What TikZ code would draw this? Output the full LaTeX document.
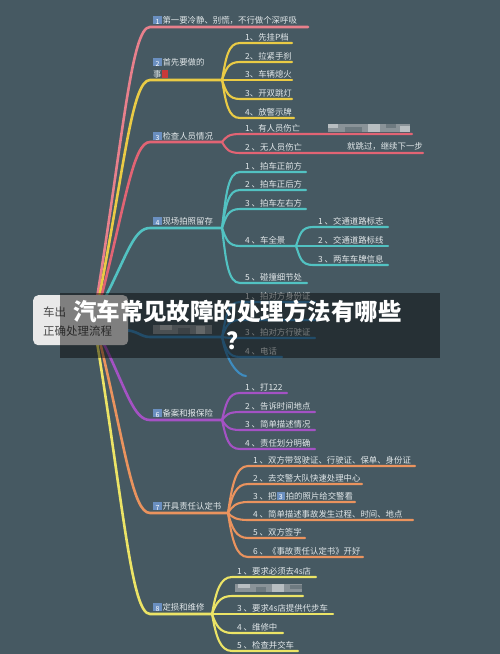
\documentclass[tikz,border=0pt]{standalone}
\usepackage{fontspec}
\newfontfamily\cjk{Noto Sans CJK SC}
\usetikzlibrary{calc}
\definecolor{bg}{HTML}{465962}
\definecolor{labc}{HTML}{E2E8EA}
\definecolor{cA}{HTML}{E8808C}
\definecolor{cB}{HTML}{EACB45}
\definecolor{cC}{HTML}{E26474}
\definecolor{cD}{HTML}{52C2C2}
\definecolor{cE}{HTML}{3E8CC0}
\definecolor{cF}{HTML}{A452C4}
\definecolor{cG}{HTML}{EA935E}
\definecolor{cH}{HTML}{ECE466}
\definecolor{keyblue}{HTML}{6A8FC0}
\definecolor{markred}{HTML}{C83A3A}
\definecolor{rootc}{HTML}{E9E9E9}
\definecolor{roottext}{HTML}{4A4A4A}
\definecolor{blurA}{HTML}{8A9398}
\definecolor{blurB}{HTML}{B8BEC1}
\definecolor{blurC}{HTML}{6E7A80}
\newcommand\kc[1]{{\setlength{\fboxsep}{0pt}\colorbox{keyblue}{\raisebox{-0.8pt}[7.5pt][0.8pt]{\makebox[8.5pt]{\color{white}\fontsize{7}{7}\selectfont #1}}}}\hspace{0.8pt}}
\newcommand\redm{\textcolor{markred}{\rule[-0.5pt]{6.5pt}{7.5pt}}}
\newcommand\child[7]{%
  \coordinate (#3s) at (#4,#5);
  \coordinate (#3e) at (#6,#5);
  \node[lab] (#3) at ($(#3s)+(5,-3)$) {#7};
  \draw[#1] (#2) .. controls ($(#2)!0.6!(#2|-#3s)+(4,0)$) and +(-12,0) .. (#3s) -- (#3e);
}
\begin{document}
\begin{tikzpicture}[x=1pt,y=-1pt,
  main/.style={line width=2.6pt, line cap=round},
  sub/.style={line width=2.1pt, line cap=round},
  lab/.style={text=labc, font=\cjk\fontsize{8.4}{10}\selectfont, inner sep=0pt, anchor=base west}]
\fill[bg] (0,0) rectangle (500,654);
\useasboundingbox (0,0) rectangle (500,654);

% root start points
\coordinate (r1) at (97,298);
\coordinate (r2) at (99,298);
\coordinate (r3) at (101,298);
\coordinate (r4) at (105,298);
\coordinate (r5) at (122,330);
\coordinate (r6) at (103,342);
\coordinate (r7) at (100,342);
\coordinate (r8) at (97,342);

% ---- branch 1
\coordinate (b1s) at (150,27);
\coordinate (b1e) at (308,27);
\node[lab] (b1) at (153,23.5) {\kc{1}第一要冷静、别慌，不行做个深呼吸};
\draw[main,cA] (r1) .. controls (123.5,134) and (131.5,27) .. (b1s) -- (b1e);

% ---- branch 2
\coordinate (b2s) at (150,80);
\coordinate (J2) at (222,80);
\node[lab] (b2) at (153,65.5) {\kc{2}首先要做的};
\node[lab] (b2b) at (153,77) {事\redm};
\draw[main,cB] (r2) .. controls (124.5,166) and (132,80) .. (b2s) -- (J2);
\child{sub,cB}{J2}{c21}{240}{43}{292}{1、先挂P档}
\child{sub,cB}{J2}{c22}{240}{62}{292}{2、拉紧手刹}
\child{sub,cB}{J2}{c23}{240}{80}{292}{3、车辆熄火}
\child{sub,cB}{J2}{c24}{240}{99}{292}{3、开双跳灯}
\child{sub,cB}{J2}{c25}{240}{118}{294}{4、放警示牌}

% ---- branch 3
\coordinate (b3s) at (150,142);
\coordinate (J3) at (222,142);
\node[lab] (b3) at (153,139.5) {\kc{3}检查人员情况};
\draw[main,cC] (r3) .. controls (125.5,203) and (133,142) .. (b3s) -- (J3);
\child{sub,cC}{J3}{c31}{240}{134}{412}{1、有人员伤亡}
\child{sub,cC}{J3}{c32}{240}{153}{423}{2 、无人员伤亡}
\node[lab] (n32) at (347,149.5) {就跳过，继续下一步};
\fill[blurA] (328,124) rectangle (410,132);
\fill[blurB] (328,124) rectangle (338,128);
\fill[blurC] (345,127) rectangle (362,132);
\fill[blurB] (368,124) rectangle (380,132);
\fill[blurC] (386,124) rectangle (396,128);
\fill[blurB] (400,126) rectangle (410,132);

% ---- branch 4
\coordinate (b4s) at (150,228);
\coordinate (J4) at (222,228);
\node[lab] (b4) at (153,224.5) {\kc{4}现场拍照留存};
\draw[main,cD] (r4) .. controls (127.5,254) and (134,228) .. (b4s) -- (J4);
\child{sub,cD}{J4}{c41}{240}{172}{306}{1 、拍车正前方}
\child{sub,cD}{J4}{c42}{240}{190}{306}{2 、拍车正后方}
\child{sub,cD}{J4}{c43}{240}{209}{306}{3 、拍车左右方}
\child{sub,cD}{J4}{c44}{240}{246}{296}{4 、车全景}
\child{sub,cD}{J4}{c45}{240}{283}{307}{5 、碰撞细节处}
\child{sub,cD}{c44e}{c441}{313}{227}{388}{1 、交通道路标志}
\child{sub,cD}{c44e}{c442}{313}{246}{388}{2 、交通道路标线}
\child{sub,cD}{c44e}{c443}{313}{265}{388}{3 、两车车牌信息}

% ---- branch 5
\coordinate (b5s) at (150,337);
\coordinate (J5) at (222,337);
\draw[main,cE] (r5) .. controls (138,330) and (140,337) .. (b5s) -- (J5);
\fill[blurA] (153,325) rectangle (212,334);
\fill[blurB] (160,325) rectangle (172,330);
\fill[blurC] (178,328) rectangle (190,334);
\fill[blurB] (196,326) rectangle (205,334);
\child{sub,cE}{J5}{c51}{240}{302}{315}{1 、拍对方身份证}
\coordinate (c52s) at (240,320);
\coordinate (c52e) at (315,320);
\draw[sub,cE] (J5) .. controls ($(J5)!0.6!(J5|-c52s)+(4,0)$) and +(-12,0) .. (c52s) -- (c52e);
\child{sub,cE}{J5}{c53}{240}{338}{315}{3 、拍对方行驶证}
\child{sub,cE}{J5}{c54}{240}{357}{282}{4 、电话}
\coordinate (c55s) at (246,376);
\draw[sub,cE] (J5) .. controls ($(J5)!0.6!(J5|-c55s)+(4,0)$) and +(-8,0) .. (c55s);

% ---- branch 6
\coordinate (b6s) at (150,420);
\coordinate (J6) at (222,420);
\node[lab] (b6) at (153,416.5) {\kc{6}备案和报保险};
\draw[main,cF] (r6) .. controls (126.5,390) and (133.5,420) .. (b6s) -- (J6);
\child{sub,cF}{J6}{c61}{240}{393}{287}{1 、打122}
\child{sub,cF}{J6}{c62}{240}{412}{315}{2 、告诉时间地点}
\child{sub,cF}{J6}{c63}{240}{430}{315}{3 、简单描述情况}
\child{sub,cF}{J6}{c64}{240}{449}{315}{4 、责任划分明确}

% ---- branch 7
\coordinate (b7s) at (150,513);
\coordinate (J7) at (228,513);
\node[lab] (b7) at (153,509.5) {\kc{7}开具责任认定书};
\draw[main,cG] (r7) .. controls (125,446) and (132.5,513) .. (b7s) -- (J7);
\child{sub,cG}{J7}{c71}{248}{466}{415}{1 、双方带驾驶证、行驶证、保单、身份证}
\child{sub,cG}{J7}{c72}{248}{484}{362}{2 、去交警大队快速处理中心}
\child{sub,cG}{J7}{c73}{248}{502}{355}{3 、把\kc{3}拍的照片给交警看}
\child{sub,cG}{J7}{c74}{248}{520}{413}{4 、简单描述事故发生过程、时间、地点}
\child{sub,cG}{J7}{c75}{248}{538}{305}{5 、双方签字}
\child{sub,cG}{J7}{c76}{248}{557}{363}{6 、《事故责任认定书》开好}

% ---- branch 8
\coordinate (b8s) at (150,614);
\coordinate (J8) at (212,614);
\node[lab] (b8) at (153,610.5) {\kc{8}定损和维修};
\draw[main,cH] (r8) .. controls (123.5,506) and (131.5,614) .. (b8s) -- (J8);
\child{sub,cH}{J8}{c81}{232}{577}{316}{1 、要求必须去4s店}
\coordinate (c82s) at (232,596);
\coordinate (c82e) at (303,596);
\draw[sub,cH] (J8) .. controls ($(J8)!0.6!(J8|-c82s)+(4,0)$) and +(-12,0) .. (c82s) -- (c82e);
\fill[blurA] (235,584) rectangle (302,592);
\fill[blurB] (238,584) rectangle (250,588);
\fill[blurC] (256,587) rectangle (266,592);
\fill[blurB] (272,584) rectangle (284,592);
\fill[blurC] (290,585) rectangle (302,589);
\child{sub,cH}{J8}{c83}{232}{614}{333}{3 、要求4s店提供代步车}
\child{sub,cH}{J8}{c84}{232}{633}{283}{4 、维修中}
\child{sub,cH}{J8}{c85}{232}{651}{298}{5 、检查并交车}

% ---- root box
\node[fill=rootc, rounded corners=5pt, minimum width=95pt, minimum height=50pt, inner sep=0pt, anchor=north west] (root) at (33,295) {};
\node[text=roottext, font=\cjk\fontsize{11.5}{12}\selectfont, inner sep=0pt, anchor=base west] (rt1) at (43,316) {车出};
\node[text=roottext, font=\cjk\fontsize{11.5}{12}\selectfont, inner sep=0pt, anchor=base west] (rt2) at (43,335) {正确处理流程};

% ---- banner and title
\node[fill=black, fill opacity=0.45, minimum width=380pt, minimum height=65pt, inner sep=0pt, anchor=north west] (banner) at (60,293) {};
\node[text=white, font=\cjk\bfseries\fontsize{23.5}{24}\selectfont, inner sep=0pt, anchor=base] (t1) at (237.5,320.5) {汽车常见故障的处理方法有哪些};
\node[text=white, font=\cjk\bfseries\fontsize{23.5}{24}\selectfont, inner sep=0pt, anchor=base] (t2) at (238,349) {？};
\end{tikzpicture}
\end{document}
